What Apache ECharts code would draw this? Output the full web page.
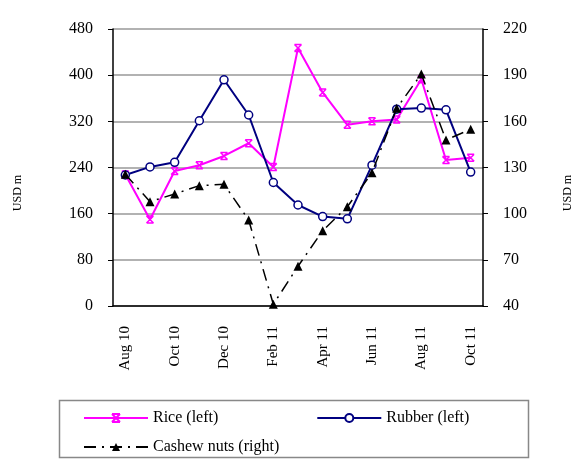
<!DOCTYPE html>
<html>
<head>
<meta charset="utf-8">
<script src="https://cdn.jsdelivr.net/npm/echarts@6/dist/echarts.min.js"></script>
<style>
  html, body { margin: 0; padding: 0; background: #fff; }
  #chart { width: 588px; height: 464px; }
</style>
</head>
<body>
<div id="chart"></div>
<script>
// Monthly export values, Aug 2010 – Oct 2011
const months = ['Aug 10','Sep 10','Oct 10','Nov 10','Dec 10','Jan 11','Feb 11','Mar 11',
                'Apr 11','May 11','Jun 11','Jul 11','Aug 11','Sep 11','Oct 11'];
const rice   = [228, 150, 234, 244, 260, 282, 241, 447, 370, 314, 320, 323, 393, 253, 257];
const rubber = [227, 241, 249, 321, 392, 331, 214, 175, 155, 151, 244, 341, 343, 340, 232];
const cashew = [125.6, 107.8, 112.8, 118.2, 119.1, 95.9, 41.1, 65.8, 88.9, 104.5, 126.6, 168.5, 190.7, 147.9, 154.8];

const leftAxis  = { min: 0,  max: 480, interval: 80 };
const rightAxis = { min: 40, max: 220 };

const serif = 'Liberation Serif, Times New Roman, serif';
const starMarker = 'path://M0,0 L10,0 M0,10 L10,10 M0,0 L10,10 M10,0 L0,10';

const chart = echarts.init(document.getElementById('chart'), null, { renderer: 'canvas' });

chart.setOption({
  animation: false,
  backgroundColor: '#ffffff',
  grid: { left: 113, right: 105, top: 29, bottom: 158 },
  xAxis: {
    type: 'category',
    data: months,
    boundaryGap: true,
    axisLine: { lineStyle: { color: '#000', width: 1.5 } },
    axisTick: { interval: 1, length: 5, lineStyle: { color: '#000' } },
    axisLabel: {
      interval: 1, rotate: 90, margin: 20,
      color: '#000', fontFamily: serif, fontSize: 15
    },
    splitLine: { show: false }
  },
  yAxis: [
    {
      type: 'value',
      min: leftAxis.min, max: leftAxis.max, interval: leftAxis.interval,
      position: 'left',
      axisLine: { show: true, lineStyle: { color: '#000', width: 1.5 } },
      axisTick: { show: true, length: 5, lineStyle: { color: '#000' } },
      axisLabel: { margin: 20, color: '#000', fontFamily: serif, fontSize: 16 },
      splitLine: { show: true, lineStyle: { color: '#999', width: 1.5 } }
    },
    {
      type: 'value',
      min: rightAxis.min, max: rightAxis.max,
      alignTicks: true,
      position: 'right',
      axisLine: { show: true, lineStyle: { color: '#000', width: 1.5 } },
      axisTick: { show: true, length: 5, lineStyle: { color: '#000' } },
      axisLabel: { margin: 20, color: '#000', fontFamily: serif, fontSize: 16 },
      splitLine: { show: false }
    }
  ],
  legend: [
    {
      data: ['Rice (left)', 'Rubber (left)'],
      left: 78, top: 405,
      itemWidth: 64, itemHeight: 10, itemGap: 98,
      textStyle: { color: '#000', fontFamily: serif, fontSize: 16 }
    },
    {
      data: ['Cashew nuts (right)'],
      left: 78, top: 434,
      itemWidth: 64, itemHeight: 10,
      textStyle: { color: '#000', fontFamily: serif, fontSize: 16 }
    }
  ],
  graphic: [
    {
      type: 'rect', left: 57, top: 398,
      shape: { width: 469, height: 57 },
      style: { fill: 'none', stroke: '#888', lineWidth: 1.5 }
    },
    {
      type: 'text', x: 18, y: 193, rotation: Math.PI / 2,
      style: { text: 'USD m', fill: '#000', font: '12px ' + serif, align: 'center', verticalAlign: 'middle' }
    },
    {
      type: 'text', x: 568, y: 193, rotation: Math.PI / 2,
      style: { text: 'USD m', fill: '#000', font: '12px ' + serif, align: 'center', verticalAlign: 'middle' }
    }
  ],
  series: [
    {
      name: 'Rice (left)', type: 'line', yAxisIndex: 0, data: rice,
      symbol: starMarker, symbolSize: 7, showAllSymbol: true,
      lineStyle: { color: '#ff00ff', width: 2 },
      itemStyle: { color: '#ff00ff', borderColor: '#ff00ff', borderWidth: 1.5 },
      z: 3
    },
    {
      name: 'Rubber (left)', type: 'line', yAxisIndex: 0, data: rubber,
      symbol: 'circle', symbolSize: 8, showAllSymbol: true,
      lineStyle: { color: '#000080', width: 2 },
      itemStyle: { color: '#ffffff', borderColor: '#000080', borderWidth: 1.5 },
      z: 4
    },
    {
      name: 'Cashew nuts (right)', type: 'line', yAxisIndex: 1, data: cashew,
      symbol: 'triangle', symbolSize: 9, showAllSymbol: true,
      lineStyle: { color: '#000', width: 1.5, type: [12, 6, 2, 6] },
      itemStyle: { color: '#000', borderColor: '#000', borderWidth: 0 },
      z: 5
    }
  ]
});
</script>
</body>
</html>
